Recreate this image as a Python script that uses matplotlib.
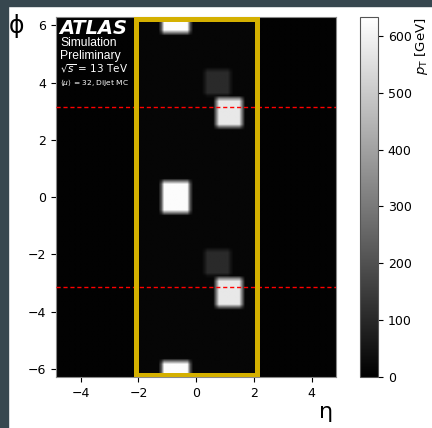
import numpy as np
import matplotlib
matplotlib.use("Agg")
import matplotlib.pyplot as plt
from matplotlib.patches import Rectangle

# jets seen in the event display (eta, phi, pT in GeV, half widths)
jet_eta = [-0.7, 1.15, 0.75]
jet_phi = [0.0, 2.95, -2.28]
jet_pt = [625.0, 575.0, 105.0]
jet_heta = [0.48, 0.45, 0.45]
jet_hphi = [0.55, 0.5, 0.45]

# faint underlying energy, inside / outside the tracker box
bkg_inner = 16.0
bkg_outer = 6.0

eta_max = 4.85
tracker_eta = 2.1
pt_max = 633
cbar_ticks = [0, 100, 200, 300, 400, 500, 600]
eta_ticks = [-4, -2, 0, 2, 4]
phi_ticks = [-6, -4, -2, 0, 2, 4, 6]

# build the eta-phi image, phi extended to [-2pi, 2pi]
eta_c = np.arange(-eta_max + 0.05, eta_max, 0.1)
phi_c = np.linspace(-2 * np.pi, 2 * np.pi, 127)[:-1] + 2 * np.pi / 126
E, P = np.meshgrid(eta_c, phi_c)
img = np.where(np.abs(E) < tracker_eta, bkg_inner, bkg_outer)

def edge(d, hw, soft=0.12):
    return np.clip((hw - d) / soft + 0.5, 0, 1)

for eta0, phi0, pt, he, hp in zip(jet_eta, jet_phi, jet_pt, jet_heta, jet_hphi):
    for shift in (-2 * np.pi, 0, 2 * np.pi):
        fx = edge(np.abs(E - eta0), he)
        fy = edge(np.abs(P - (phi0 + shift)), hp)
        img = np.maximum(img, pt * fx * fy)

fig = plt.figure(figsize=(4.32, 4.28), dpi=100)
fig.patches.append(Rectangle((0, 0), 8 / 432, 1, transform=fig.transFigure,
                             color='#37474f', zorder=-10))
fig.patches.append(Rectangle((0, 1 - 6 / 428), 1, 6 / 428, transform=fig.transFigure,
                             color='#37474f', zorder=-10))

ax = fig.add_axes([0.130, 0.119, 0.648, 0.841])
cax = fig.add_axes([0.833, 0.119, 0.042, 0.841])

im = ax.imshow(img, origin='lower', cmap='gray', vmin=0, vmax=pt_max,
               extent=[-eta_max, eta_max, -2 * np.pi, 2 * np.pi],
               aspect='auto', interpolation='bilinear')

for y in (np.pi, -np.pi):
    ax.axhline(y, color='red', ls=(0, (3, 2)), lw=1.0, zorder=3)

inset = 0.07
ax.add_patch(Rectangle((-tracker_eta, -2 * np.pi + inset), 2 * tracker_eta,
                       4 * np.pi - 2 * inset, fill=False, edgecolor='#d4b000',
                       lw=3.6, zorder=4))

ax.set_xlim(-eta_max, eta_max)
ax.set_ylim(-2 * np.pi, 2 * np.pi)
ax.set_xticks(eta_ticks)
ax.set_yticks(phi_ticks)
ax.tick_params(labelsize=9)
for s in ax.spines.values():
    s.set_color('#888888')

fig.text(16 / 432, 1 - 26 / 428, 'ϕ', fontsize=17, ha='center', va='center')
fig.text(326 / 432, 1 - 412 / 428, 'η', fontsize=16, ha='center', va='center')

ax.text(0.012, 0.995, 'ATLAS', transform=ax.transAxes, color='white',
        fontsize=14, fontweight='bold', fontstyle='italic', va='top', ha='left')
ax.text(0.014, 0.945, 'Simulation', transform=ax.transAxes, color='white',
        fontsize=8.7, family='Liberation Sans', va='top')
ax.text(0.014, 0.910, 'Preliminary', transform=ax.transAxes, color='white',
        fontsize=8.7, family='Liberation Sans', va='top')
ax.text(0.012, 0.875, r'$\sqrt{s}$ = 13 TeV', transform=ax.transAxes, color='white',
        fontsize=7.5, va='top')
ax.text(0.014, 0.835, r'$\langle\mu\rangle$ = 32, Dijet MC', transform=ax.transAxes,
        color='white', fontsize=5.4, va='top')

cb = fig.colorbar(im, cax=cax, ticks=cbar_ticks)
cb.ax.tick_params(labelsize=9)
cb.outline.set_edgecolor('#555555')
cb.set_label(r'$p_\mathrm{T}$ [GeV]', loc='top', fontsize=9.5, labelpad=1)

fig.savefig('out.png', dpi=100)
